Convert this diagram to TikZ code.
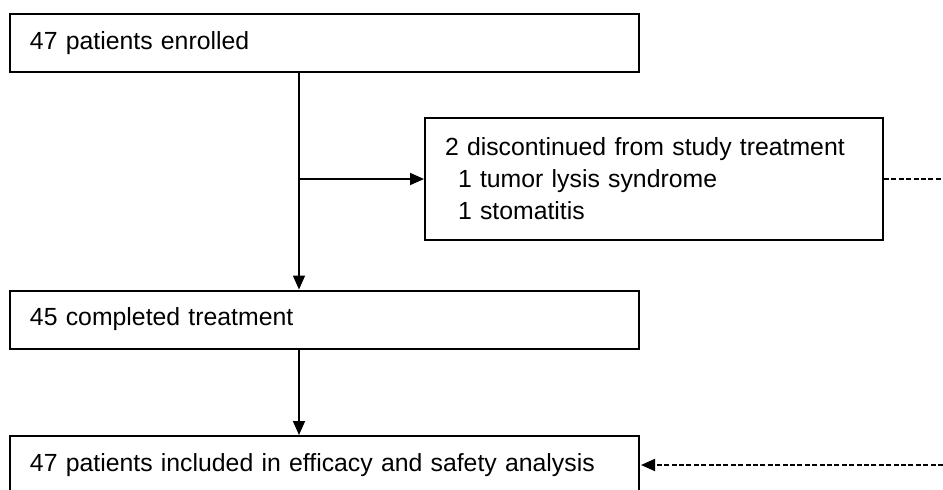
\documentclass[tikz,border=0pt]{standalone}
\usepackage{fontspec}
\setmainfont{Liberation Sans}
\usetikzlibrary{arrows.meta}

\tikzset{
  flowbox/.style={draw, line width=1pt, inner xsep=10pt, text width=294.5pt,
    minimum height=29pt, align=left, font=\fontsize{12.4}{16}\selectfont},
  sidebox/.style={flowbox, text width=209pt, minimum height=61pt},
  flowarrow/.style={line width=0.9pt, -{Triangle[length=7pt,width=6pt]}},
  lostline/.style={line width=0.6pt, dash pattern=on 2.5pt off 1.2pt}
}

\begin{document}
\begin{tikzpicture}[x=0.5pt,y=0.5pt]
    \useasboundingbox (0,0) rectangle (943,489);
    % boxes
    \node[flowbox] (enrolled) at (324.5,446) {47 patients enrolled};
    \node[sidebox] (discont) at (654,310) {2 discontinued from study treatment\\
      \hspace*{6.5pt}1 tumor lysis syndrome\\
      \hspace*{6.5pt}1 stomatitis};
    \node[flowbox] (completed) at (324.5,169.5) {45 completed treatment};
    \node[flowbox] (analysis) at (324.5,24) {47 patients included in efficacy and safety analysis};
    % connectors
    \coordinate (split) at (299,310);
    \coordinate (edge1) at (943,310);
    \coordinate (edge2) at (943,24);
    \draw[flowarrow] (split |- enrolled.south) -- (split |- completed.north);
    \draw[flowarrow] (split) -- (discont.west);
    \draw[flowarrow] (split |- completed.south) -- (split |- analysis.north);
    \draw[lostline] (discont.east) -- (edge1);
    \draw[lostline, line width=0.9pt, -{Triangle[length=7pt,width=6pt]}, shorten >=0.5pt] (edge2) -- (analysis.east |- edge2);
\end{tikzpicture}
\end{document}
